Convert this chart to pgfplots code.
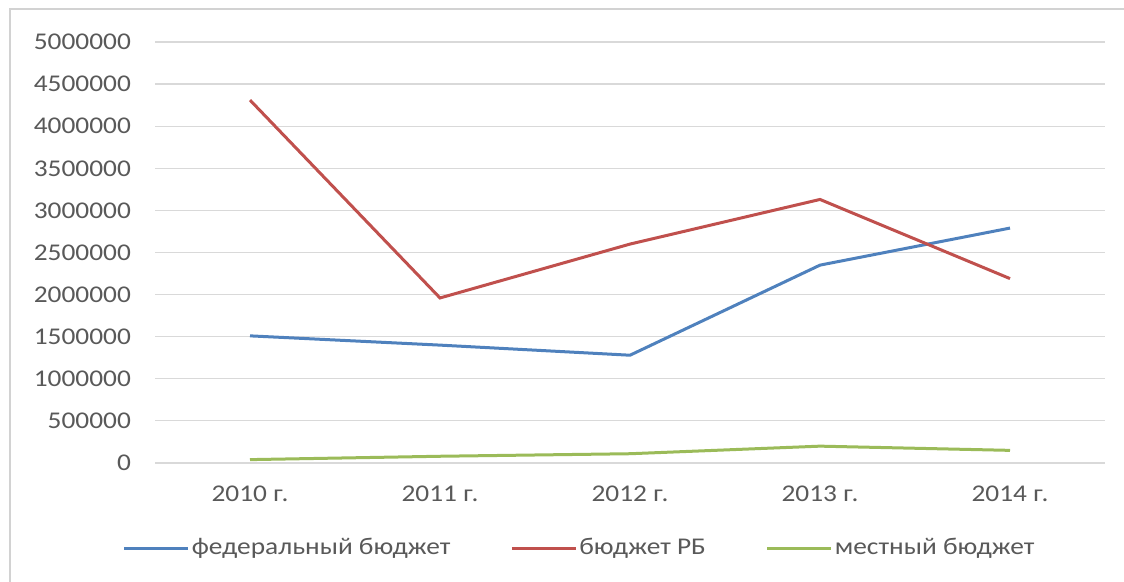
\documentclass[border=0pt]{standalone}
\usepackage{fontspec}
\setmainfont{Carlito}[FakeStretch=1.14]
\usepackage{pgfplots}
\pgfplotsset{compat=1.18}
\definecolor{sblue}{HTML}{4F81BD}
\definecolor{sred}{HTML}{C0504D}
\definecolor{sgreen}{HTML}{9BBB59}
\definecolor{txt}{HTML}{595959}
\definecolor{grd}{HTML}{D9D9D9}
\begin{document}
\begin{tikzpicture}[x=1pt,y=1pt]
\useasboundingbox (0,0) rectangle (562,291);
\draw[gray!35, line width=0.8pt] (5,0) -- (5,286.5) -- (562,286.5);
\begin{axis}[
  at={(77.5pt,59.5pt)}, anchor=south west,
  width=475pt, height=210.5pt, scale only axis,
  xmin=-0.5, xmax=4.5, ymin=0, ymax=5000000,
  xtick={0,1,2,3,4},
  xticklabels={2010 г.,2011 г.,2012 г.,2013 г.,2014 г.},
  ytick={0,500000,1000000,1500000,2000000,2500000,3000000,3500000,4000000,4500000,5000000},
  scaled y ticks=false,
  /pgf/number format/assume math mode=true,
  yticklabel={\pgfmathprintnumber[fixed,1000 sep={},precision=0]{\tick}},
  ymajorgrids, major grid style={grd, line width=0.6pt},
  axis line style={draw=none},
  major tick length=0pt,
  tick label style={font=\fontsize{12}{14}\selectfont, text=txt},
  yticklabel style={xshift=-8.5pt},
  xticklabel style={yshift=-8pt},
  legend columns=3,
  legend style={at={(0.447,-0.202)}, anchor=center, draw=none, fill=none,
    font=\fontsize{12}{14}\selectfont, text=txt, nodes={inner sep=1pt},
    /tikz/every even column/.append style={column sep=29pt}},
  legend image code/.code={\draw[#1] (0pt,0pt) -- (32pt,0pt);},
  every axis plot/.append style={line width=1.5pt, mark=none},
]
\addplot[sblue] coordinates {(0,1510000) (1,1400000) (2,1280000) (3,2350000) (4,2790000)};
\addlegendentry{федеральный бюджет}
\addplot[sred] coordinates {(0,4310000) (1,1960000) (2,2600000) (3,3130000) (4,2190000)};
\addlegendentry{бюджет РБ}
\addplot[sgreen] coordinates {(0,40000) (1,80000) (2,110000) (3,200000) (4,150000)};
\addlegendentry{местный бюджет}
\end{axis}
\end{tikzpicture}
\end{document}
